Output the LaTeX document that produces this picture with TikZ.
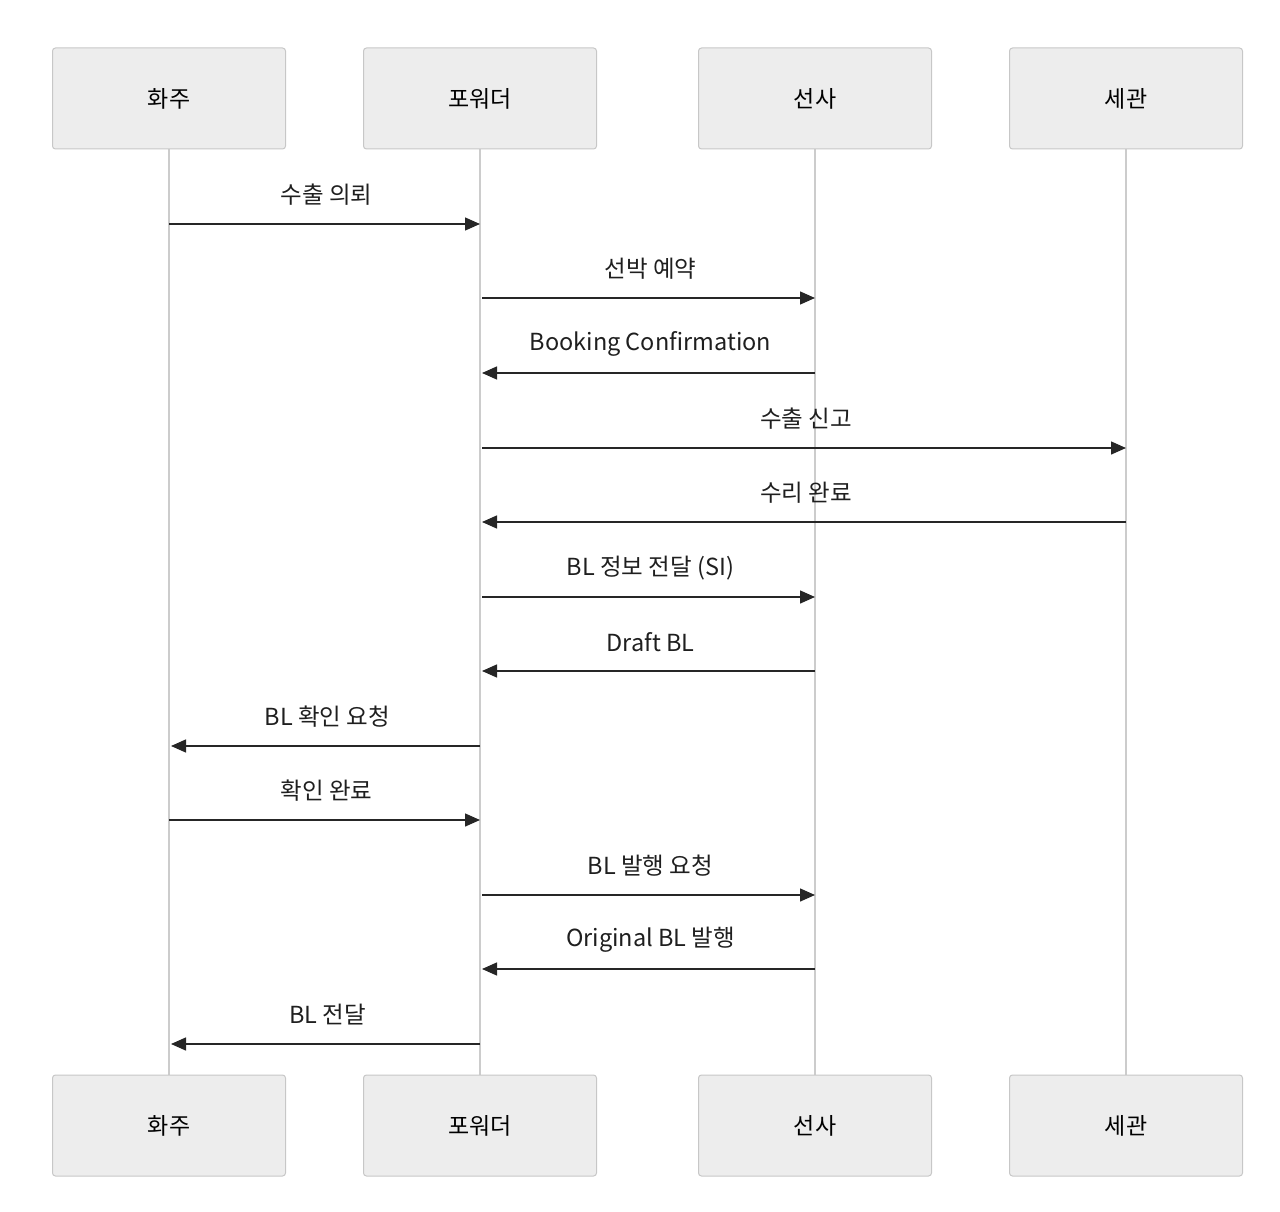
\documentclass[tikz,border=0pt]{standalone}
\usepackage{fontspec}
\setmainfont{Noto Sans CJK KR}
\usetikzlibrary{arrows.meta}
\tikzset{
 actor/.style={draw=black!22,fill=black!7,rounded corners=3pt,minimum width=233pt,minimum height=101pt,font=\fontsize{23}{26}\selectfont,line width=1pt},
 life/.style={draw=black!20,line width=2.5pt},
 msg/.style={draw=black!85,line width=1.4pt,-{Triangle[length=15pt,width=13pt]}},
 lbl/.style={font=\fontsize{23.5}{26}\selectfont,text=black!88}
}
\begin{document}
\begin{tikzpicture}[x=1pt,y=-1pt]
\useasboundingbox (0,0) rectangle (1280,1212);
\foreach \n/\x/\t in {a/169/화주,b/480/포워더,c/815/선사,d/1126/세관}{
 \draw[life] (\x,149) -- (\x,1075);
 \node[actor] (\n1) at (\x,98.5) {\t};
 \node[actor] (\n2) at (\x,1125.5) {\t};
}
\foreach \y/\f/\t/\l in {224/169/480/수출 의뢰, 298/482/815/선박 예약, 373/815/482/Booking Confirmation, 448/482/1126/수출 신고, 522/1126/482/수리 완료, 597/482/815/BL 정보 전달 (SI), 671/815/482/Draft BL, 746/480/171/BL 확인 요청, 820/169/480/확인 완료, 895/482/815/BL 발행 요청, 969/815/482/Original BL 발행, 1044/480/171/BL 전달}{
 \coordinate (s) at (\f,\y); \coordinate (e) at (\t,\y);
 \draw[msg] (s) -- (e);
 \node[lbl] at ({(\f+\t)/2+2},\y-29) {\l};
}
\end{tikzpicture}
\end{document}
